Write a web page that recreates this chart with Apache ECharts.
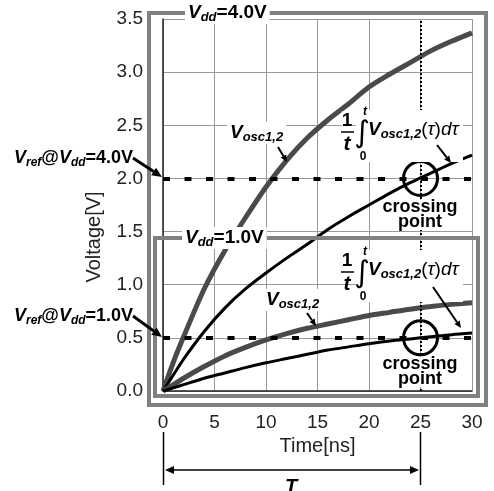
<!DOCTYPE html>
<html>
<head>
<meta charset="utf-8">
<script src="https://cdn.jsdelivr.net/npm/echarts@6/dist/echarts.min.js"></script>
<style>
html, body { margin: 0; padding: 0; background: #fff; }
#container { width: 494px; height: 491px; }
</style>
</head>
<body>
<div id="container"></div>
<script>
// values
var tNs   = [0, 1, 2, 4, 6, 8, 10, 12, 14, 16, 18, 20, 22, 24, 26, 28, 30];
var vosc4 = [0, 0.27, 0.51, 0.96, 1.32, 1.63, 1.92, 2.17, 2.38, 2.55, 2.70, 2.86, 2.98, 3.09, 3.20, 3.29, 3.37];
var avg4  = [0, 0.15, 0.30, 0.56, 0.78, 0.96, 1.11, 1.25, 1.38, 1.52, 1.64, 1.75, 1.86, 1.96, 2.05, 2.14, 2.22];
var vosc1 = [0, 0.06, 0.12, 0.23, 0.33, 0.41, 0.48, 0.54, 0.59, 0.63, 0.67, 0.71, 0.74, 0.77, 0.795, 0.815, 0.83];
var avg1  = [0, 0.03, 0.06, 0.12, 0.17, 0.22, 0.265, 0.305, 0.345, 0.385, 0.415, 0.445, 0.47, 0.49, 0.51, 0.53, 0.545];
var vref = [2.0, 0.5];
var tCross = 25;

var FONT = 'Liberation Sans, Arial, sans-serif';

function pairs(ys) {
    return tNs.map(function (t, i) { return [t, ys[i]]; });
}

var rich = {
    v: { fontSize: 19, fontWeight: 'bold', fontStyle: 'italic', lineHeight: 22, fontFamily: FONT },
    s: { fontSize: 13, fontWeight: 'bold', fontStyle: 'italic', lineHeight: 10, verticalAlign: 'bottom', fontFamily: FONT },
    b: { fontSize: 19, fontWeight: 'bold', lineHeight: 22, fontFamily: FONT },
    g: { fontSize: 19, fontStyle: 'italic', lineHeight: 22, fontFamily: FONT },
    r: { fontSize: 19, lineHeight: 22, fontFamily: FONT }
};
var richSmall = {
    v: { fontSize: 18, fontWeight: 'bold', fontStyle: 'italic', lineHeight: 22, fontFamily: FONT },
    s: { fontSize: 12, fontWeight: 'bold', fontStyle: 'italic', lineHeight: 10, verticalAlign: 'bottom', fontFamily: FONT },
    b: { fontSize: 18, fontWeight: 'bold', lineHeight: 22, fontFamily: FONT }
};

function label(x, y, text, r, bg, align) {
    return {
        type: 'text', x: x, y: y, z: 100,
        style: {
            text: text, rich: r || rich, fill: '#000',
            align: align || 'left', verticalAlign: 'middle',
            backgroundColor: bg ? '#fff' : null, padding: bg ? [0, 3, 0, 3] : 0
        }
    };
}

function arrow(x1, y1, x2, y2, w, head) {
    var dx = x2 - x1, dy = y2 - y1, len = Math.sqrt(dx * dx + dy * dy);
    var ux = dx / len, uy = dy / len, h = head || 9, hw = h * 0.45;
    var bx = x2 - ux * h, by = y2 - uy * h;
    return [
        { type: 'line', z: 100, shape: { x1: x1, y1: y1, x2: bx, y2: by }, style: { stroke: '#000', lineWidth: w } },
        { type: 'polygon', z: 100, shape: { points: [[x2, y2], [bx - uy * hw, by + ux * hw], [bx + uy * hw, by - ux * hw]] }, style: { fill: '#000' } }
    ];
}

function formula(dy) {
    return [
        { type: 'rect', z: 99, shape: { x: 356, y: 110 + dy, width: 107, height: 52 }, style: { fill: '#fff' } },
        { type: 'text', x: 347, y: 121 + dy, z: 100, style: { text: '1', font: 'bold 19px ' + FONT, fill: '#000', align: 'center', verticalAlign: 'middle', backgroundColor: '#fff' } },
        { type: 'line', z: 100, shape: { x1: 341, y1: 132 + dy, x2: 354, y2: 132 + dy }, style: { stroke: '#000', lineWidth: 1.5 } },
        { type: 'text', x: 347, y: 144 + dy, z: 100, style: { text: 't', font: 'italic bold 21px ' + FONT, fill: '#000', align: 'center', verticalAlign: 'middle' } },
        { type: 'text', x: 362, y: 134 + dy, z: 100, style: { text: '\u222B', font: '30px DejaVu Sans', fill: '#000', align: 'center', verticalAlign: 'middle' } },
        { type: 'text', x: 365, y: 112 + dy, z: 100, style: { text: 't', font: 'italic bold 12px ' + FONT, fill: '#000', align: 'center', verticalAlign: 'middle' } },
        { type: 'text', x: 363, y: 157 + dy, z: 100, style: { text: '0', font: 'bold 12px ' + FONT, fill: '#000', align: 'center', verticalAlign: 'middle' } },
        label(368, 130 + dy, '{v|V}{s|osc1,2}{r|(}{g|\u03C4}{r|)}{g|d\u03C4}', rich, false)
    ];
}

var graphics = [
    // frames
    { type: 'rect', z: 50, shape: { x: 149, y: 13, width: 337, height: 392 }, style: { fill: null, stroke: '#808080', lineWidth: 4 } },
    { type: 'rect', z: 50, shape: { x: 155, y: 238, width: 323, height: 158 }, style: { fill: null, stroke: '#808080', lineWidth: 4 } },
    label(185, 13, '{v|V}{s|dd}{b|=4.0V}', rich, true),
    label(182, 238, '{v|V}{s|dd}{b|=1.0V}', rich, true),
    // y axis title
    { type: 'text', x: 94, y: 237, rotation: Math.PI / 2,
      style: { text: 'Voltage[V]', font: '20px ' + FONT, fill: '#222', align: 'center', verticalAlign: 'middle' } },
    // Vref labels
    label(14, 158, '{v|V}{s|ref}{b|@}{v|V}{s|dd}{b|=4.0V}', richSmall, false),
    label(14, 316, '{v|V}{s|ref}{b|@}{v|V}{s|dd}{b|=1.0V}', richSmall, false),
    // curve labels
    label(227, 133, '{v|V}{s|osc1,2}', rich, true),
    label(263, 300, '{v|V}{s|osc1,2}', rich, true),
    { type: 'text', x: 420, y: 215, z: 100, style: { text: 'crossing\npoint', font: 'bold 18px ' + FONT, lineHeight: 15, fill: '#000', align: 'center', verticalAlign: 'middle', backgroundColor: '#fff' } },
    { type: 'text', x: 420, y: 372, z: 100, style: { text: 'crossing\npoint', font: 'bold 18px ' + FONT, lineHeight: 15, fill: '#000', align: 'center', verticalAlign: 'middle', backgroundColor: '#fff' } },
    // T span below the axis
    { type: 'line', shape: { x1: 163.5, y1: 432, x2: 163.5, y2: 485 }, style: { stroke: '#000', lineWidth: 1.5 } },
    { type: 'line', shape: { x1: 420.5, y1: 432, x2: 420.5, y2: 485 }, style: { stroke: '#000', lineWidth: 1.5 } },
    { type: 'text', x: 291, y: 487, style: { text: 'T', font: 'italic bold 20px ' + FONT, fill: '#000', align: 'center', verticalAlign: 'middle' } }
];
graphics = graphics
    .concat(formula(0), formula(140))
    .concat(arrow(133, 158, 162, 177, 3, 10), arrow(133, 316, 162, 337, 3, 10))
    .concat(arrow(278, 147, 287, 162, 2, 7), arrow(437, 145, 451, 163, 2, 7))
    .concat(arrow(307, 313, 316, 326, 2, 7), arrow(433, 287, 461, 328, 2, 7))
    .concat(arrow(291, 470, 165, 470, 1.5, 9), arrow(291, 470, 419, 470, 1.5, 9));

var dom = document.getElementById('container');
var myChart = echarts.init(dom);

option = {
    animation: false,
    textStyle: { fontFamily: FONT },
    grid: { left: 163, right: 22, top: 19, bottom: 100 },
    xAxis: {
        type: 'value', min: 0, max: 30, interval: 5,
        name: 'Time[ns]', nameLocation: 'middle', nameGap: 45,
        nameTextStyle: { fontSize: 20, color: '#222', fontFamily: FONT },
        axisLine: { lineStyle: { color: '#222', width: 1.5 } },
        axisTick: { show: false },
        axisLabel: { fontSize: 19, color: '#222', margin: 22, fontFamily: FONT },
        splitLine: { lineStyle: { color: '#999', width: 1 } }
    },
    yAxis: {
        type: 'value', min: 0, max: 3.5, interval: 0.5,
        axisLine: { show: true, lineStyle: { color: '#222', width: 1.5 } },
        axisTick: { show: false },
        axisLabel: { fontSize: 19, color: '#222', margin: 20, fontFamily: FONT,
            formatter: function (v) { return v.toFixed(1); } },
        splitLine: { lineStyle: { color: '#999', width: 1 } }
    },
    series: [
        { type: 'line', data: pairs(vosc4), showSymbol: false, smooth: 0.3,
          lineStyle: { color: '#4a4a4a', width: 5 } },
        { type: 'line', data: pairs(avg4), showSymbol: false, smooth: 0.3,
          lineStyle: { color: '#000', width: 3 } },
        { type: 'line', data: pairs(vosc1), showSymbol: false, smooth: 0.3,
          lineStyle: { color: '#4a4a4a', width: 5 } },
        { type: 'line', data: pairs(avg1), showSymbol: false, smooth: 0.3,
          lineStyle: { color: '#000', width: 3 },
          markLine: {
              silent: true, symbol: 'none', label: { show: false },
              data: [
                  { yAxis: vref[0], lineStyle: { color: '#000', width: 4, type: [7, 14.5] } },
                  { yAxis: vref[1], lineStyle: { color: '#000', width: 4, type: [7, 14.5] } },
                  { xAxis: tCross, lineStyle: { color: '#000', width: 2, type: [2, 2] } }
              ]
          },
          markPoint: {
              silent: true, symbol: 'circle', symbolSize: 34, label: { show: false },
              itemStyle: { color: 'rgba(0,0,0,0)', borderColor: '#000', borderWidth: 3 },
              data: [{ coord: [tCross, vref[0]] }, { coord: [tCross, vref[1]] }]
          }
        }
    ],
    graphic: graphics
};
myChart.setOption(option);

window.addEventListener('resize', function () {
    myChart.resize();
});
</script>
</body>
</html>
